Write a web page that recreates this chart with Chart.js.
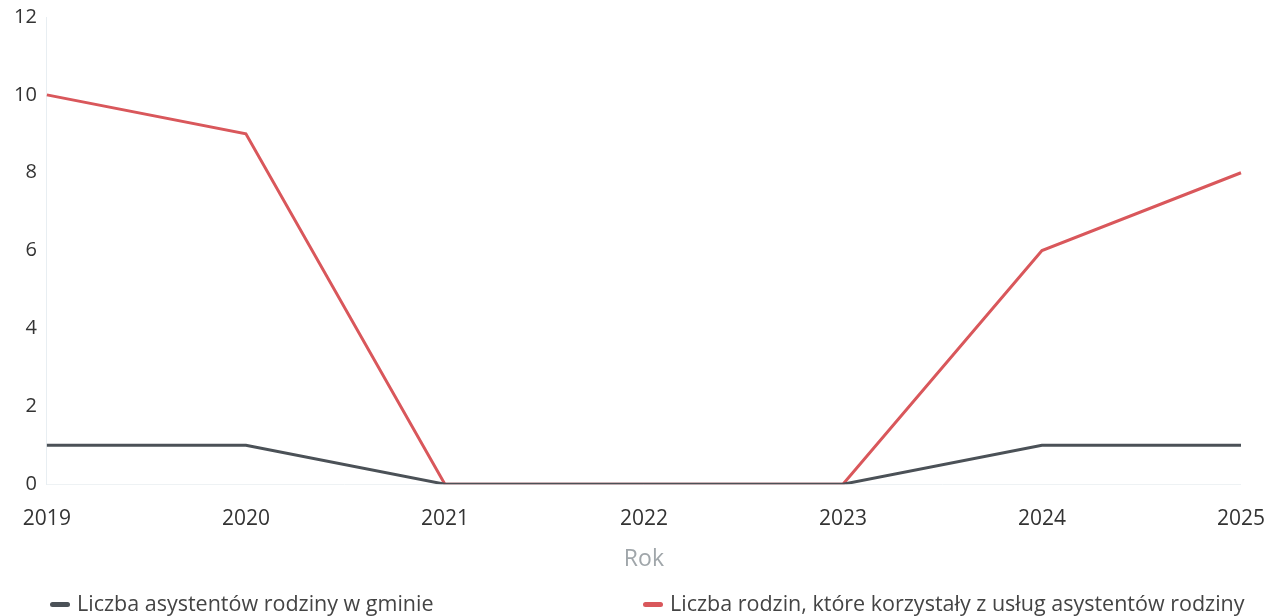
<!DOCTYPE html>
<html lang="pl">
<head>
<meta charset="utf-8">
<script src="https://cdn.jsdelivr.net/npm/chart.js@4"></script>
<style>
  html, body { margin: 0; padding: 0; background: #fff; }
  #wrap { position: relative; width: 1279px; height: 616px; }
  #wrap canvas { position: absolute; left: 0; top: 0; }
  .legend { position: absolute; top: 588px; font-family: "Open Sans", sans-serif; font-size: 21.5px; color: #444; white-space: nowrap; line-height: 29px; }
  .legend i { display: inline-block; width: 20px; height: 5px; border-radius: 3px; vertical-align: middle; margin-right: 7px; position: relative; top: -1px; }
</style>
</head>
<body>
<div id="wrap">
  <canvas id="asystenciChart" width="1279" height="616"></canvas>
  <div class="legend" style="left:50px"><i style="background:#4b5157"></i>Liczba asystentów rodziny w gminie</div>
  <div class="legend" style="left:643px"><i style="background:#d9575b"></i>Liczba rodzin, które korzystały z usług asystentów rodziny</div>
</div>
<script>
// Lata i wartości
const lata = ["2019", "2020", "2021", "2022", "2023", "2024", "2025"];
const asystenci = [1, 1, 0, 0, 0, 1, 1];
const rodziny = [10, 9, 0, 0, 0, 6, 8];
const osY = [0, 2, 4, 6, 8, 10, 12];

const data = {
    labels: lata,
    datasets: [
        {
            label: "Liczba asystentów rodziny w gminie",
            data: asystenci,
            borderColor: "#4b5157",
            borderWidth: 3,
            pointRadius: 0,
            tension: 0
        },
        {
            label: "Liczba rodzin, które korzystały z usług asystentów rodziny",
            data: rodziny,
            borderColor: "#d9575b",
            borderWidth: 3,
            pointRadius: 0,
            tension: 0
        }
    ]
};

const config = {
    type: "line",
    data: data,
    options: {
        responsive: false,
        animation: false,
        layout: { padding: { left: 4, right: 18, top: 0, bottom: 39 } },
        plugins: {
            legend: { display: false },
            tooltip: { enabled: false }
        },
        scales: {
            x: {
                grid: { display: false },
                border: { color: "#eef2f4" },
                ticks: { color: "#333", font: { family: "Open Sans", size: 21 }, padding: 14, maxRotation: 0 },
                title: { display: true, text: "Rok", color: "#a0a6aa", font: { family: "Open Sans", size: 23 }, padding: { top: 0 } }
            },
            y: {
                min: 0,
                max: 12,
                afterBuildTicks: (axis) => { axis.ticks = osY.map(v => ({ value: v })); },
                // miejsce nad górną etykietą
                afterFit: (axis) => { axis.paddingTop = 17; },
                grid: { display: false, drawTicks: false },
                border: { color: "#e8eef2" },
                ticks: { color: "#333", font: { family: "Open Sans", size: 20 }, padding: 10 }
            }
        }
    }
};

new Chart(document.getElementById("asystenciChart"), config);
</script>
</body>
</html>
